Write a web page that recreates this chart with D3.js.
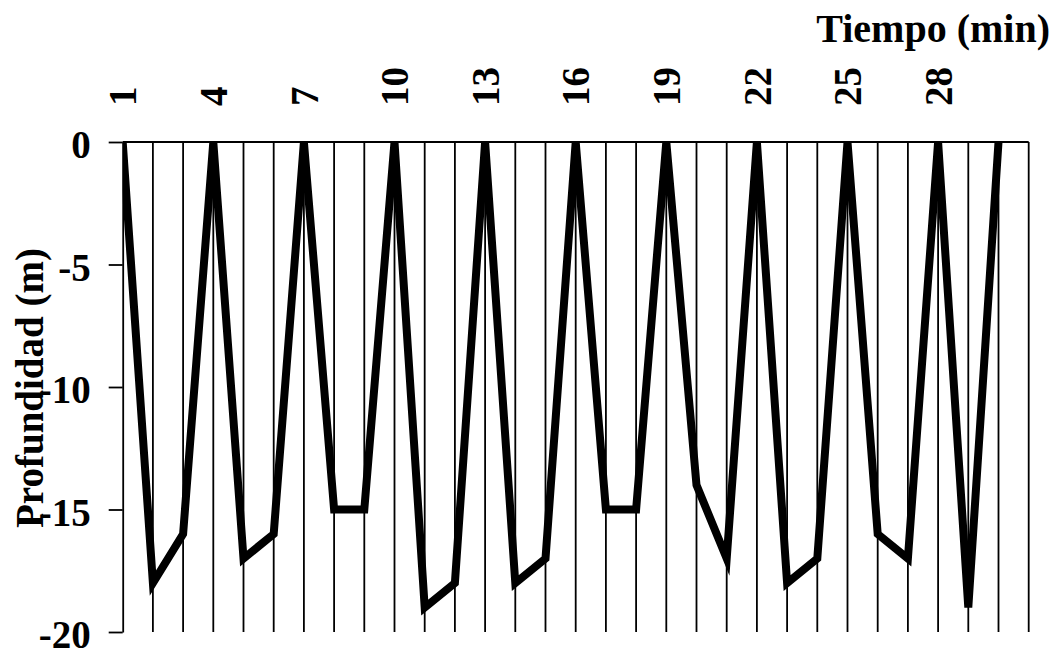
<!DOCTYPE html>
<html>
<head>
<meta charset="utf-8">
<script src="https://cdn.jsdelivr.net/npm/d3@7"></script>
<style>
  body { margin: 0; background: #fff; }
  text { font-family: "Liberation Serif", "Times New Roman", serif; font-weight: bold; fill: #000; }
</style>
</head>
<body>
<svg id="chart" width="1058" height="648"></svg>
<script>
// minutes and depth (m)
const minutes = d3.range(1, 31);
const depth = [0, -18, -16, 0, -17, -16, 0, -15, -15, 0,
               -19, -18, 0, -18, -17, 0, -15, -15, 0, -14,
               -17, 0, -18, -17, 0, -16, -17, 0, -19, 0];
const xLabels = [1, 4, 7, 10, 13, 16, 19, 22, 25, 28];
const yTicks = [0, -5, -10, -15, -20];

const svg = d3.select('#chart');
const plotL = 122.7, plotR = 1028.7, plotT = 142, plotB = 632;

const x = d3.scaleLinear().domain([1, 31]).range([plotL, plotR]);
const y = d3.scaleLinear().domain([0, -20]).range([plotT, plotB]);

// vertical grid lines, one per minute
svg.append('g')
  .selectAll('line')
  .data(d3.range(2, 32))
  .enter()
  .append('line')
  .attr('x1', d => x(d)).attr('x2', d => x(d))
  .attr('y1', plotT).attr('y2', plotB)
  .attr('stroke', '#000')
  .attr('stroke-width', 1.8);

// y axis on the left
const yAxis = svg.append('g')
  .attr('transform', `translate(${plotL},0)`)
  .call(d3.axisLeft(y).tickValues(yTicks).tickSize(14).tickSizeOuter(0).tickPadding(18)
    .tickFormat(d => String(d)));
yAxis.selectAll('path, line').attr('stroke', '#000').attr('stroke-width', 1.8);
yAxis.selectAll('text')
  .attr('font-size', 39)
  .attr('dy', '0.4em')
  .style('font-family', '"Liberation Serif", serif')
  .style('font-weight', 'bold');

// x axis along the top (line only)
svg.append('line')
  .attr('x1', plotL).attr('x2', plotR)
  .attr('y1', plotT).attr('y2', plotT)
  .attr('stroke', '#000').attr('stroke-width', 1.8);

// rotated minute labels
svg.append('g')
  .selectAll('text')
  .data(xLabels)
  .enter()
  .append('text')
  .attr('transform', d => `translate(${x(d)},106) rotate(-90)`)
  .attr('dy', '0.35em')
  .attr('font-size', 39)
  .text(d => d);

// depth line, clipped to the plot
svg.append('clipPath').attr('id', 'plotclip')
  .append('rect').attr('x', plotL).attr('y', plotT)
  .attr('width', plotR - plotL).attr('height', plotB - plotT + 10);

const line = d3.line()
  .x((d, i) => x(minutes[i]))
  .y(d => y(d));

svg.append('path')
  .datum(depth)
  .attr('clip-path', 'url(#plotclip)')
  .attr('d', line)
  .attr('fill', 'none')
  .attr('stroke', '#000')
  .attr('stroke-width', 8)
  .attr('stroke-linejoin', 'miter')
  .attr('stroke-miterlimit', 10);

// titles
svg.append('text')
  .attr('x', 1050).attr('y', 42)
  .attr('text-anchor', 'end')
  .attr('font-size', 40)
  .text('Tiempo (min)');

svg.append('text')
  .attr('transform', 'translate(43,388) rotate(-90)')
  .attr('text-anchor', 'middle')
  .attr('font-size', 39)
  .text('Profundidad (m)');
</script>
</body>
</html>
